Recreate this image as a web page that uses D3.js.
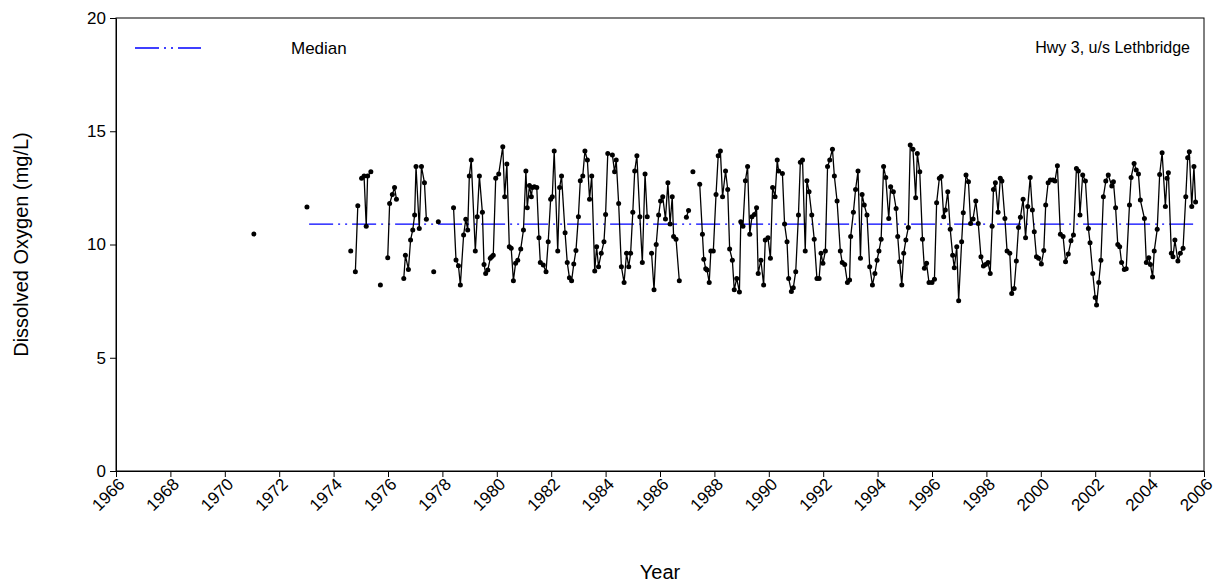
<!DOCTYPE html>
<html>
<head>
<meta charset="utf-8">
<script src="https://cdn.jsdelivr.net/npm/d3@7"></script>
<style>
    body { margin: 0; background: #fff; }
    text { font-family: "Liberation Sans", Arial, sans-serif; fill: #000; }
    .axis path, .axis line { stroke: #000; stroke-width: 1; }
</style>
</head>
<body>
<div id="chart"></div>
<script>
// sample dates (decimal year) and DO readings; null marks a gap in the record
let sampleYears = [
    1971.07, null, 1973.02, null, 1974.63, null, 1974.80, 1974.89, null,
    1975.03, 1975.12, 1975.20, 1975.25, 1975.37, null, 1975.72, null,
    1975.99, 1976.06, 1976.16, 1976.24, 1976.31, null,
    1976.58, 1976.64, 1976.75, 1976.83, 1976.91, 1976.98, 1977.03, 1977.15, 1977.23, 1977.34, 1977.41, null,
    1977.68, null, 1977.85, null,
    1978.41, 1978.50, 1978.59, 1978.66, 1978.78, 1978.86, 1978.93, 1978.99, 1979.06, 1979.21, 1979.28, 1979.36,
    1979.47, 1979.53, 1979.59, 1979.67, 1979.76, 1979.81, 1979.87, 1979.96, 1980.07, 1980.22, 1980.29, 1980.37,
    1980.46, 1980.53, 1980.61, 1980.69, 1980.77, 1980.88, 1980.98, 1981.07, 1981.12, 1981.20, 1981.27, 1981.31,
    1981.38, 1981.47, 1981.55, 1981.60, 1981.71, 1981.81, 1981.89, 1981.98, 1982.04, 1982.11, 1982.24, 1982.31,
    1982.38, 1982.51, 1982.59, 1982.67, 1982.75, 1982.83, 1982.91, 1983.00, 1983.07, 1983.16, 1983.24, 1983.33,
    1983.41, 1983.49, 1983.60, 1983.67, 1983.74, 1983.84, 1983.94, 1984.00, 1984.08, 1984.25, 1984.33, 1984.39,
    1984.48, 1984.58, 1984.68, 1984.77, 1984.85, 1984.92, 1985.00, 1985.07, 1985.15, 1985.26, 1985.35, 1985.45,
    1985.53, null,
    1985.69, 1985.78, 1985.86, 1985.95, 1986.02, 1986.10, 1986.20, 1986.29, 1986.37, 1986.45, 1986.50, 1986.59,
    1986.71, null, 1986.97, 1987.05, null, 1987.21, null,
    1987.46, 1987.56, 1987.61, 1987.68, 1987.73, 1987.81, 1987.87, 1987.96, 1988.06, 1988.14, 1988.22, 1988.30,
    1988.41, 1988.49, 1988.56, 1988.66, 1988.73, 1988.82, 1988.92, 1988.97, 1989.05, 1989.14, 1989.22, 1989.30,
    1989.38, 1989.47, 1989.55, 1989.61, 1989.71, 1989.81, 1989.87, 1989.97, 1990.06, 1990.14, 1990.23, 1990.31,
    1990.36, 1990.50, 1990.58, 1990.67, 1990.73, 1990.83, 1990.90, 1990.99, 1991.09, 1991.16, 1991.24, 1991.34,
    1991.40, 1991.48, 1991.58, 1991.67, 1991.77, 1991.85, 1991.92, 1991.99, 1992.08, 1992.16, 1992.24, 1992.34,
    1992.41, 1992.51, 1992.63, 1992.70, 1992.79, 1992.89, 1992.97, 1993.01, 1993.11, 1993.19, 1993.28, 1993.37,
    1993.43, 1993.51, 1993.61, 1993.71, 1993.81, 1993.90, 1993.98, 1994.05, 1994.13, 1994.22, 1994.30, 1994.41,
    1994.48, 1994.58, 1994.68, 1994.74, 1994.81, 1994.89, 1994.96, 1995.04, 1995.13, 1995.20, 1995.30, 1995.40,
    1995.46, 1995.55, 1995.65, 1995.72, 1995.80, 1995.89, 1996.00, 1996.09, 1996.17, 1996.27, 1996.34, 1996.43,
    1996.49, 1996.58, 1996.67, 1996.76, 1996.82, 1996.91, 1996.98, 1997.09, 1997.15, 1997.25, 1997.34, 1997.42,
    1997.51, 1997.61, 1997.70, 1997.80, 1997.89, 1997.97, 1998.06, 1998.14, 1998.21, 1998.26, 1998.33, 1998.43,
    1998.51, 1998.57, 1998.68, 1998.76, 1998.86, 1998.93, 1999.02, 1999.10, 1999.18, 1999.25, 1999.35, 1999.44,
    1999.52, 1999.61, 1999.69, 1999.76, 1999.84, 1999.92, 2000.02, 2000.11, 2000.18, 2000.27, 2000.35, 2000.45,
    2000.52, 2000.61, 2000.72, 2000.82, 2000.91, 2001.01, 2001.11, 2001.20, 2001.31, 2001.38, 2001.44, 2001.54,
    2001.64, 2001.75, 2001.81, 2001.91, 2002.00, 2002.05, 2002.13, 2002.21, 2002.30, 2002.39, 2002.48, 2002.61,
    2002.67, 2002.75, 2002.83, 2002.90, 2002.97, 2003.07, 2003.14, 2003.26, 2003.32, 2003.43, 2003.51, 2003.59,
    2003.66, 2003.81, 2003.88, 2003.97, 2004.03, 2004.11, 2004.17, 2004.28, 2004.37, 2004.46, 2004.58, 2004.64,
    2004.69, 2004.80, 2004.86, 2004.93, 2005.04, 2005.13, 2005.23, 2005.33, 2005.40, 2005.46, 2005.55, 2005.63,
    2005.69
];

let oxygenValues = [
    10.46, null, 11.66, null, 9.71, null, 8.80, 11.71, null,
    12.92, 13.02, 10.81, 13.02, 13.21, null, 8.21, null,
    9.42, 11.81, 12.21, 12.52, 12.00, null,
    8.50, 9.52, 8.90, 10.20, 10.64, 11.30, 13.44, 10.71, 13.44, 12.73, 11.12, null,
    8.80, null, 11.00, null,
    11.62, 9.32, 9.06, 8.21, 10.42, 11.11, 10.64, 13.02, 13.73, 9.71, 11.23, 13.02,
    11.42, 9.12, 8.72, 8.87, 9.39, 9.46, 9.53, 12.92, 13.11, 14.32, 12.11, 13.55,
    9.90, 9.83, 8.40, 9.17, 9.31, 9.80, 10.64, 13.24, 11.62, 12.60, 12.11, 12.52,
    12.55, 12.52, 10.30, 9.20, 9.09, 8.80, 10.12, 12.00, 12.11, 14.13, 9.71, 12.52,
    13.02, 10.52, 9.21, 8.53, 8.40, 9.14, 9.73, 11.23, 12.82, 13.02, 14.13, 13.73,
    12.00, 13.02, 8.83, 9.90, 9.02, 9.61, 10.12, 11.33, 14.02, 13.95, 13.21, 13.73,
    11.81, 9.02, 8.32, 9.61, 9.02, 9.61, 11.42, 13.24, 13.92, 11.23, 9.20, 13.11,
    11.23, null,
    9.61, 8.00, 10.00, 11.30, 11.92, 12.11, 11.13, 12.73, 10.91, 12.11, 10.35, 10.23,
    8.40, null, 11.20, 11.50, null, 13.21, null,
    12.66, 10.45, 9.35, 8.93, 8.87, 8.32, 9.71, 9.71, 12.21, 13.92, 14.13, 12.11,
    13.24, 12.43, 9.80, 9.31, 8.00, 8.50, 7.90, 11.00, 10.81, 12.82, 13.44, 10.45,
    11.23, 11.33, 11.62, 8.72, 9.31, 8.21, 10.20, 10.30, 9.39, 12.52, 12.11, 13.73,
    13.24, 13.14, 10.90, 10.12, 8.50, 7.92, 8.09, 8.80, 11.30, 13.63, 13.73, 9.71,
    12.82, 12.33, 11.30, 10.23, 8.50, 8.50, 9.61, 9.17, 9.71, 13.44, 13.73, 14.21,
    13.02, 11.92, 9.71, 9.20, 9.12, 8.32, 8.43, 10.35, 11.42, 12.43, 13.24, 9.39,
    12.21, 11.74, 11.30, 9.02, 8.21, 8.72, 9.31, 9.71, 10.23, 13.44, 12.96, 11.15,
    12.55, 12.33, 11.59, 10.35, 9.24, 8.21, 9.61, 10.20, 10.75, 14.39, 14.20, 12.06,
    14.02, 13.21, 10.23, 8.95, 9.17, 8.32, 8.32, 8.47, 11.84, 12.92, 13.00, 11.23,
    11.52, 12.33, 10.67, 9.53, 8.97, 9.90, 7.52, 10.12, 11.40, 13.07, 12.77, 10.93,
    11.13, 11.92, 10.93, 9.46, 9.05, 9.12, 9.20, 8.72, 10.81, 12.43, 12.73, 11.42,
    12.92, 12.80, 11.15, 9.71, 9.61, 7.84, 8.06, 9.27, 10.75, 11.20, 12.00, 10.30,
    11.68, 12.96, 11.52, 10.56, 9.46, 9.39, 9.14, 9.73, 11.74, 12.73, 12.85, 12.85,
    12.80, 13.48, 10.45, 10.35, 9.24, 9.58, 10.17, 10.42, 13.36, 13.24, 11.30, 13.07,
    12.80, 10.71, 10.08, 8.72, 7.66, 7.33, 8.32, 9.31, 12.11, 12.80, 13.07, 12.58,
    12.77, 11.62, 10.00, 9.90, 9.20, 8.90, 8.93, 11.74, 12.96, 13.58, 13.29, 13.11,
    11.96, 11.15, 9.20, 9.42, 9.12, 8.57, 9.71, 10.67, 13.09, 14.05, 11.68, 12.92,
    13.17, 9.61, 9.46, 10.20, 9.27, 9.61, 9.83, 12.11, 13.83, 14.10, 11.68, 13.44,
    11.88
];

let medianValue = 10.9;
let medianSpan = [1973.1, 2005.6];

let yTicks = [0, 5, 10, 15, 20];
let xTicks = d3.range(1966, 2007, 2);

let siteLabel = "Hwy 3, u/s Lethbridge";
let legendLabel = "Median";

let margin = {top: 18, right: 17, bottom: 113, left: 116};
let width = 1221 - margin.left - margin.right;
let height = 584 - margin.top - margin.bottom;

let svg = d3.select("#chart").append("svg")
    .attr("width", 1221)
    .attr("height", 584)
    .append("g")
    .attr("transform", "translate(" + margin.left + "," + margin.top + ")");

let x = d3.scaleLinear().domain([1966, 2006]).range([0, width]);
let y = d3.scaleLinear().domain([0, 20]).range([height, 0]);

let data = sampleYears.map((t, i) => ({t: t, v: oxygenValues[i]}));

// frame
svg.append("rect")
    .attr("width", width)
    .attr("height", height)
    .attr("fill", "none")
    .attr("stroke", "#000")
    .attr("stroke-width", 1);

// axes
let xAxis = d3.axisBottom(x).tickValues(xTicks).tickFormat(d3.format("d")).tickSize(6).tickSizeOuter(0);
let yAxis = d3.axisLeft(y).tickValues(yTicks).tickSize(6).tickSizeOuter(0);

let gx = svg.append("g")
    .attr("class", "axis")
    .attr("transform", "translate(0," + height + ")")
    .call(xAxis);
gx.selectAll("text")
    .attr("font-size", 17)
    .attr("text-anchor", "end")
    .attr("dy", "0.35em")
    .attr("transform", "translate(5,10) rotate(-45)")
    .attr("y", 0)
    .attr("x", 0);

svg.append("g")
    .attr("class", "axis")
    .call(yAxis)
    .selectAll("text")
    .attr("font-size", 17)
    .attr("x", -10);

svg.selectAll(".axis .domain").attr("stroke", "#000");

// median line
svg.append("line")
    .attr("x1", x(medianSpan[0]))
    .attr("x2", x(medianSpan[1]))
    .attr("y1", y(medianValue))
    .attr("y2", y(medianValue))
    .attr("stroke", "#0000ff")
    .attr("stroke-width", 1.3)
    .attr("stroke-dasharray", "24,5,2,5,2,5");

// series
let line = d3.line()
    .defined(d => d.v !== null)
    .x(d => x(d.t))
    .y(d => y(d.v));

svg.append("path")
    .datum(data)
    .attr("d", line)
    .attr("fill", "none")
    .attr("stroke", "#000")
    .attr("stroke-width", 1.3);

svg.selectAll("circle.pt")
    .data(data.filter(d => d.v !== null))
    .enter().append("circle")
    .attr("class", "pt")
    .attr("cx", d => x(d.t))
    .attr("cy", d => y(d.v))
    .attr("r", 2.5)
    .attr("fill", "#000");

// legend
svg.append("line")
    .attr("x1", 19).attr("x2", 85)
    .attr("y1", 30).attr("y2", 30)
    .attr("stroke", "#0000ff")
    .attr("stroke-width", 1.3)
    .attr("stroke-dasharray", "24,5,2,5,2,5");

svg.append("text")
    .attr("x", 175)
    .attr("y", 30)
    .attr("dy", "0.35em")
    .attr("font-size", 17)
    .text(legendLabel);

svg.append("text")
    .attr("x", width - 14)
    .attr("y", 29)
    .attr("dy", "0.35em")
    .attr("text-anchor", "end")
    .attr("font-size", 16)
    .text(siteLabel);

// axis titles
svg.append("text")
    .attr("text-anchor", "middle")
    .attr("x", width / 2)
    .attr("y", height + 108)
    .attr("font-size", 20)
    .text("Year");

svg.append("text")
    .attr("text-anchor", "middle")
    .attr("transform", "rotate(-90)")
    .attr("x", -height / 2)
    .attr("y", -88)
    .attr("font-size", 20)
    .text("Dissolved Oxygen (mg/L)");
</script>
</body>
</html>
